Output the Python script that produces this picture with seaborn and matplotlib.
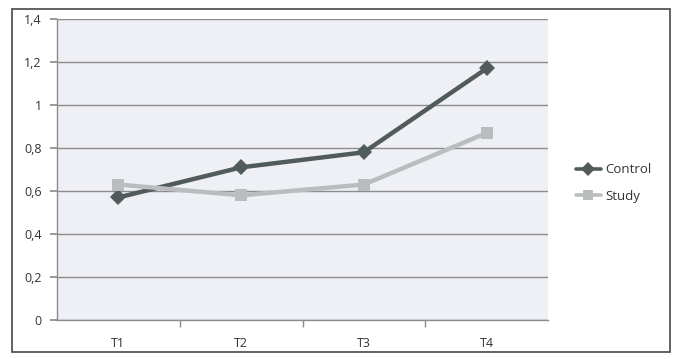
import matplotlib
matplotlib.use("Agg")
import matplotlib.pyplot as plt
from matplotlib.patches import Rectangle
from matplotlib.ticker import FuncFormatter, FixedLocator, MultipleLocator
import seaborn as sns
import pandas as pd

timepoints = ["T1", "T2", "T3", "T4"]
control = [0.57, 0.71, 0.78, 1.17]
study = [0.63, 0.58, 0.63, 0.87]

df = pd.DataFrame({
    "Time": timepoints * 2,
    "Value": control + study,
    "Group": ["Control"] * 4 + ["Study"] * 4,
})

sns.set_theme(style="white")
plt.rcParams["font.family"] = ["Open Sans", "DejaVu Sans"]

fig = plt.figure(figsize=(6.74, 3.59), dpi=100)
ax = fig.add_axes([57 / 674, 1 - 320 / 359, (548 - 57) / 674, (320 - 19) / 359])

palette = {"Control": "#515b59", "Study": "#b9bdbd"}
sns.lineplot(data=df, x="Time", y="Value", hue="Group", style="Group",
             markers={"Control": "D", "Study": "s"}, dashes=False,
             palette=palette, linewidth=3.2, markersize=8.5,
             markeredgewidth=0, ax=ax, sort=False)

ax.set_facecolor("#eef0f5")
ax.set_xlim(-0.5, 3.5)
ax.set_ylim(0, 1.4)
ax.yaxis.set_major_locator(MultipleLocator(0.2))
ax.yaxis.set_major_formatter(FuncFormatter(
    lambda v, _: "0" if abs(v) < 1e-9 else ("%g" % round(v, 1)).replace(".", ",")))
ax.grid(axis="y", color="#8c8c8c", linewidth=1)
ax.set_axisbelow(True)
ax.set_xlabel("")
ax.set_ylabel("")

for side in ("top", "right"):
    ax.spines[side].set_visible(False)
for side in ("left", "bottom"):
    ax.spines[side].set_color("#8c8c8c")
    ax.spines[side].set_linewidth(1)

ax.tick_params(axis="y", which="major", length=5, color="#8c8c8c",
               labelsize=9, labelcolor="#333333", pad=6, left=True)
ax.tick_params(axis="x", which="major", length=0, labelsize=9,
               labelcolor="#333333", pad=12)
ax.xaxis.set_minor_locator(FixedLocator([0.5, 1.5, 2.5]))
ax.tick_params(axis="x", which="minor", length=5, color="#8c8c8c", bottom=True)

handles, labels = ax.get_legend_handles_labels()
for h in handles:
    h.set_markersize(7)
    h.set_linewidth(2.6)
ax.legend(handles, labels, loc="center left", bbox_to_anchor=(564 / 674, 1 - 183 / 359),
          bbox_transform=fig.transFigure, frameon=False, fontsize=9.5,
          handlelength=1.9, handletextpad=0.35, labelspacing=1.0,
          labelcolor="#333333")

fig.patches.append(Rectangle((12 / 674, 1 - 352 / 359), (670 - 12) / 674, (352 - 9) / 359,
                             transform=fig.transFigure, fill=False,
                             edgecolor="#555555", linewidth=1.3))

fig.savefig("out.png", dpi=100)
